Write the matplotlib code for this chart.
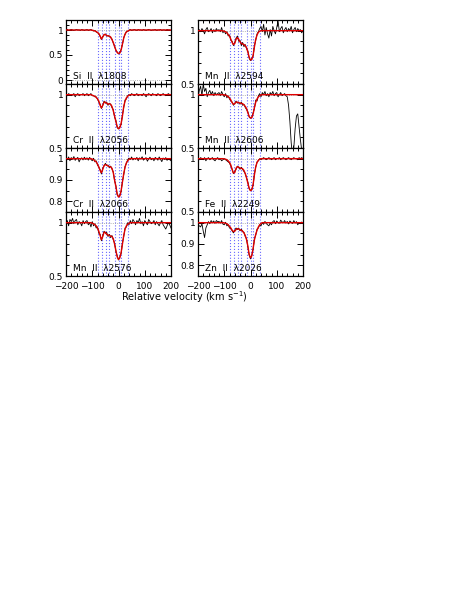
import numpy as np
import matplotlib
matplotlib.use('Agg')
import matplotlib.pyplot as plt
from matplotlib.ticker import MultipleLocator, FuncFormatter

# velocity grids (km/s): observed data every 5 km/s, fitted model over the absorption only
vel = np.arange(-200, 201, 5)
vel_mod = np.arange(-120, 61, 5)

# component positions of the fit (blue dotted lines)
comp_vel = [-80, -63, -47, -35, -15, 0, 10, 35]

# ---- left column ----
flux_si1808 = [1.00,1.01,0.99,1.00,1.01,1.00,0.99,1.00,1.01,1.00,1.00,0.99,1.01,1.00,0.99,1.00,
               1.01,0.99,1.00,1.01,0.99,0.98,0.99,0.96,0.95,0.92,0.87,0.81,0.87,0.90,0.92,
               0.88,0.89,0.87,0.85,0.82,0.74,0.68,0.59,0.56,0.52,0.55,0.61,0.71,0.85,0.91,
               0.97,0.97,1.00,1.01,0.99,1.00,1.01,
               1.00,0.99,1.01,1.00,1.00,0.99,1.01,1.00,0.99,1.00,1.01,1.00,0.99,1.00,
               1.00,1.01,0.99,1.00,1.00,1.01,0.99,1.00,1.00,0.99,1.01,1.00,1.00,0.99]
model_si1808 = [1.00,1.00,1.00,1.00,0.995,0.99,0.98,0.97,0.95,0.93,0.88,0.82,0.86,0.91,0.91,
                0.89,0.88,0.88,0.86,0.81,0.75,0.67,0.60,0.55,0.53,0.54,0.60,0.72,0.84,0.92,
                0.96,0.98,0.99,1.00,1.00,1.00,1.00]

flux_cr2056 = [1.00,0.99,1.01,1.00,0.99,1.00,1.01,0.98,1.00,1.01,0.99,1.00,1.00,1.01,0.99,1.00,
               1.01,0.99,1.00,1.01,0.99,0.99,0.98,0.98,0.96,0.93,0.91,0.87,0.90,0.94,0.92,
               0.93,0.90,0.92,0.91,0.88,0.86,0.79,0.76,0.69,0.68,0.70,0.72,0.81,0.88,0.95,
               0.96,0.99,1.00,0.99,1.01,1.00,0.99,
               1.00,1.01,0.99,1.00,1.00,0.99,1.01,1.00,0.98,1.00,1.01,1.00,0.99,1.01,
               1.00,1.00,0.99,1.01,1.00,0.99,1.00,1.01,1.00,0.99,1.00,1.01,1.00,1.00]
model_cr2056 = [1.00,1.00,1.00,1.00,0.995,0.99,0.985,0.975,0.96,0.94,0.90,0.875,0.90,0.93,0.93,
                0.92,0.91,0.915,0.91,0.89,0.85,0.80,0.75,0.70,0.68,0.69,0.73,0.80,0.89,0.94,
                0.97,0.985,0.995,1.00,1.00,1.00,1.00]

flux_cr2066 = [1.002,0.995,1.008,0.99,1.005,0.998,1.01,0.992,1.0,1.006,0.985,0.998,1.004,0.994,1.007,0.996,
               1.004,0.993,1.006,0.997,0.99,1.002,0.985,0.99,0.97,0.962,0.948,0.928,0.955,0.966,0.978,
               0.968,0.97,0.958,0.965,0.952,0.938,0.897,0.873,0.83,0.822,0.828,0.846,0.893,0.925,0.964,
               0.978,0.995,1.003,0.996,1.008,0.994,1.002,
               0.997,1.006,0.99,1.004,0.998,1.009,0.993,1.0,1.005,0.988,0.999,1.007,0.995,1.002,
               0.99,1.006,1.0,0.993,1.008,0.997,0.986,1.003,0.996,1.005,0.992,1.001,0.995,0.99]
model_cr2066 = [1.0,1.0,1.0,1.0,0.998,0.995,0.99,0.985,0.975,0.96,0.945,0.934,0.95,0.968,0.972,
                0.97,0.965,0.962,0.962,0.955,0.935,0.90,0.87,0.835,0.82,0.825,0.85,0.89,0.93,0.96,
                0.98,0.99,0.997,1.0,1.0,1.0,1.0]

flux_mn2576 = [0.99,1.02,0.97,1.03,1.01,1.04,0.99,1.02,1.03,0.98,1.01,1.00,0.97,1.02,0.99,1.01,
               1.02,0.98,1.00,0.96,1.01,0.97,0.99,0.95,0.96,0.90,0.89,0.83,0.88,0.92,0.90,
               0.91,0.87,0.89,0.86,0.88,0.84,0.81,0.73,0.69,0.65,0.68,0.71,0.81,0.87,0.95,
               0.96,1.00,0.98,1.02,0.99,1.03,1.01,
               0.98,1.02,1.00,1.04,0.99,1.01,0.97,1.02,1.00,0.98,1.03,1.01,0.99,1.00,
               1.02,0.98,1.01,0.99,0.97,1.00,1.02,0.98,0.96,0.94,0.97,1.00,0.98,0.95]
model_mn2576 = [1.0,1.0,1.0,1.0,0.995,0.99,0.98,0.97,0.95,0.92,0.88,0.84,0.87,0.91,0.91,
                0.89,0.885,0.88,0.875,0.87,0.85,0.80,0.74,0.68,0.655,0.67,0.72,0.80,0.88,0.94,
                0.97,0.985,0.995,1.0,1.0,1.0,1.0]

# ---- right column ----
flux_mn2594 = [0.98,1.01,0.99,1.02,1.00,0.97,1.01,1.03,0.99,1.00,1.02,0.98,1.01,0.99,1.02,1.00,
               1.01,0.99,1.03,0.98,1.00,0.97,0.99,0.95,0.96,0.91,0.90,0.86,0.89,0.93,0.95,
               0.90,0.91,0.86,0.89,0.85,0.87,0.83,0.81,0.74,0.72,0.74,0.76,0.86,0.91,0.97,
               0.99,1.02,1.04,0.99,1.06,0.96,1.03,
               0.97,0.93,1.01,0.95,1.04,1.00,0.97,1.03,1.09,0.99,1.02,1.04,0.98,1.01,
               1.03,0.99,1.02,1.00,1.04,0.98,1.01,1.03,0.99,1.02,1.00,1.01,0.98,1.00]
model_mn2594 = [1.0,1.0,1.0,0.998,0.995,0.99,0.98,0.965,0.95,0.92,0.89,0.87,0.88,0.92,0.935,
                0.92,0.895,0.88,0.875,0.87,0.86,0.84,0.80,0.75,0.725,0.73,0.77,0.85,0.92,0.96,
                0.985,0.995,1.0,1.0,1.0,1.0,1.0]

flux_mn2606 = [0.97,1.04,1.08,0.99,1.10,1.03,1.06,0.98,1.02,1.04,1.00,1.03,0.99,1.02,1.00,1.01,
               1.02,0.99,1.03,1.00,0.98,1.01,0.97,0.99,0.96,0.94,0.93,0.90,0.92,0.94,0.92,
               0.93,0.91,0.93,0.90,0.91,0.88,0.86,0.84,0.79,0.78,0.79,0.83,0.87,0.95,0.94,
               0.99,1.01,0.98,1.02,1.00,1.03,0.99,
               1.01,0.98,1.02,1.00,1.03,0.99,1.01,1.02,0.98,1.00,1.02,0.99,
               1.00,1.01,0.99,0.98,0.90,0.75,0.55,0.42,0.50,0.68,0.80,0.82,0.70,0.58,0.48,0.45]
model_mn2606 = [1.0,1.0,1.0,1.0,0.998,0.995,0.99,0.98,0.97,0.95,0.925,0.91,0.915,0.93,0.93,
                0.925,0.92,0.92,0.915,0.905,0.89,0.87,0.83,0.795,0.78,0.785,0.82,0.88,0.93,0.96,
                0.98,0.99,0.998,1.0,1.0,1.0,1.0]

flux_fe2249 = [1.00,0.99,1.01,1.00,0.99,1.01,0.98,1.00,1.01,0.99,1.00,1.01,0.99,0.98,1.00,1.01,
               0.99,1.00,0.98,0.99,1.00,0.99,0.98,0.97,0.96,0.93,0.90,0.86,0.88,0.90,0.93,
               0.92,0.90,0.92,0.90,0.88,0.86,0.82,0.78,0.72,0.70,0.71,0.75,0.86,0.92,0.97,
               0.98,1.00,0.99,1.00,1.01,1.00,0.99,
               1.00,1.01,1.00,0.99,1.00,1.01,0.99,1.00,1.00,1.01,0.99,1.00,1.01,1.00,
               0.99,1.00,1.01,1.00,0.99,1.00,1.01,1.00,1.00,0.99,1.01,1.00,1.01,1.00]
model_fe2249 = [1.0,1.0,1.0,1.0,0.998,0.995,0.99,0.98,0.965,0.94,0.90,0.865,0.87,0.91,0.925,
                0.92,0.91,0.91,0.905,0.89,0.86,0.82,0.77,0.72,0.70,0.71,0.76,0.85,0.925,0.965,
                0.985,0.995,1.0,1.0,1.0,1.0,1.0]

flux_zn2026 = [0.99,0.985,0.98,0.995,0.96,0.93,0.975,0.99,1.005,0.995,1.01,1.0,1.008,0.997,1.01,1.004,
               1.006,0.998,1.01,0.993,0.99,1.002,0.985,0.99,0.975,0.972,0.962,0.952,0.965,0.975,0.968,
               0.975,0.962,0.97,0.958,0.955,0.935,0.925,0.885,0.848,0.83,0.848,0.875,0.925,0.942,0.97,
               0.975,0.99,0.985,1.0,0.992,1.006,0.996,
               0.99,0.985,0.998,0.99,1.005,1.01,0.995,1.008,1.0,0.997,1.012,1.004,1.0,1.01,
               0.998,1.006,0.994,1.008,1.002,0.996,1.01,0.998,1.005,0.99,1.0,0.995,1.003,0.998]
model_zn2026 = [1.0,1.0,1.0,1.0,0.999,0.997,0.995,0.99,0.983,0.975,0.965,0.958,0.96,0.968,0.972,
                0.97,0.966,0.965,0.96,0.952,0.94,0.92,0.89,0.85,0.835,0.845,0.88,0.92,0.945,0.965,
                0.98,0.99,0.997,1.0,1.0,1.0,1.0]

# panel list: (label, data, model, y-limits, major step, minor step)
left_panels = [
    ('Si  II  \u03bb1808', flux_si1808, model_si1808, (-0.08, 1.2), 0.5, 0.1),
    ('Cr  II  \u03bb2056', flux_cr2056, model_cr2056, (0.5, 1.1), 0.5, 0.1),
    ('Cr  II  \u03bb2066', flux_cr2066, model_cr2066, (0.75, 1.05), 0.1, 0.05),
    ('Mn  II  \u03bb2576', flux_mn2576, model_mn2576, (0.5, 1.1), 0.5, 0.1),
]
right_panels = [
    ('Mn  II  \u03bb2594', flux_mn2594, model_mn2594, (0.5, 1.1), 0.5, 0.1),
    ('Mn  II  \u03bb2606', flux_mn2606, model_mn2606, (0.5, 1.1), 0.5, 0.1),
    ('Fe  II  \u03bb2249', flux_fe2249, model_fe2249, (0.5, 1.1), 0.5, 0.1),
    ('Zn  II  \u03bb2026', flux_zn2026, model_zn2026, (0.75, 1.05), 0.1, 0.05),
]

W, H = 474, 614
fig = plt.figure(figsize=(W/100, H/100), dpi=100)

col_x = [66, 198]
ax_w = 105
top = 20
row_h = 64

fmt = FuncFormatter(lambda v, p: ('%g' % round(v, 3)).replace('-', '\u2212'))

for c, panels in enumerate([left_panels, right_panels]):
    for r, (lab, flux, model, ylim, maj, mnr) in enumerate(panels):
        y0 = 1 - (top + row_h*(r+1))/H
        ax = fig.add_axes([col_x[c]/W, y0, ax_w/W, row_h/H])
        for v in comp_vel:
            ax.axvline(v, color='#6a6aff', ls=':', lw=0.8, zorder=1)
        ax.axhline(1.0, color='#999999', ls=':', lw=0.6, zorder=1)
        if ylim[0] < 0:
            ax.axhline(0.0, color='#999999', ls=':', lw=0.6, zorder=1)
        ax.plot(vel, flux, color='black', lw=0.6, zorder=2)
        vm = np.concatenate([[-200], vel_mod, [200]])
        fm = np.concatenate([[1.0], model, [1.0]])
        ax.plot(vm, fm, color='#e00000', lw=1.0, zorder=3)
        ax.set_xlim(-200, 200)
        ax.set_ylim(*ylim)
        ax.xaxis.set_major_locator(MultipleLocator(100))
        ax.xaxis.set_minor_locator(MultipleLocator(20))
        ax.yaxis.set_major_locator(MultipleLocator(maj))
        ax.yaxis.set_minor_locator(MultipleLocator(mnr))
        ax.yaxis.set_major_formatter(fmt)
        ax.xaxis.set_major_formatter(fmt)
        ax.tick_params(which='both', direction='in', top=True, right=True,
                       labelsize=6.5, width=0.7)
        ax.tick_params(axis='y', pad=2)
        ax.tick_params(axis='x', pad=4)
        ax.tick_params(which='major', length=4)
        ax.tick_params(which='minor', length=2)
        if r < 3:
            ax.tick_params(labelbottom=False)
        for s in ax.spines.values():
            s.set_linewidth(0.9)
        ax.text(0.07, 0.05, lab, transform=ax.transAxes, fontsize=6.5,
                ha='left', va='bottom', zorder=4)

fig.text((66 + 303)/2/W, 1 - 297/H, 'Relative velocity (km s$^{-1}$)',
         ha='center', va='center', fontsize=7)

fig.savefig('out.png', dpi=100)
